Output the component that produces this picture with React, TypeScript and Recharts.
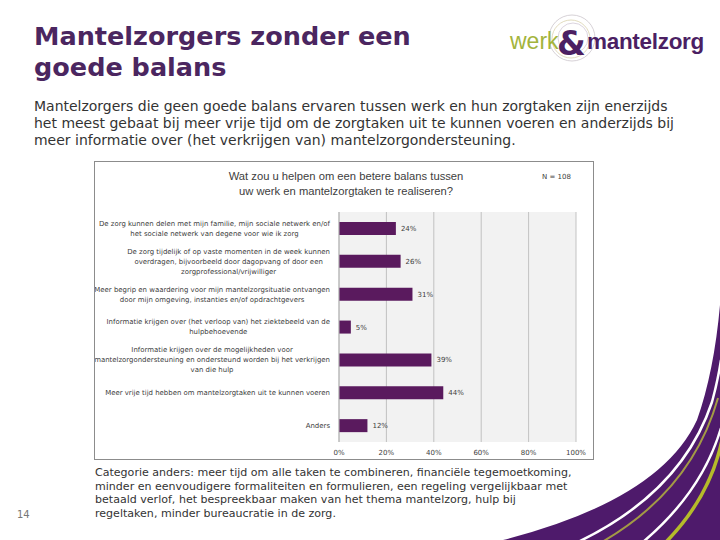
import React from 'react';
import { BarChart, Bar, XAxis, YAxis, CartesianGrid, LabelList } from 'recharts';

const categories = [
  'De zorg kunnen delen met mijn familie, mijn sociale netwerk en/of\nhet sociale netwerk van degene voor wie ik zorg',
  'De zorg tijdelijk of op vaste momenten in de week kunnen\noverdragen, bijvoorbeeld door dagopvang of door een\nzorgprofessional/vrijwilliger',
  'Meer begrip en waardering voor mijn mantelzorgsituatie ontvangen\ndoor mijn omgeving, instanties en/of opdrachtgevers',
  'Informatie krijgen over (het verloop van) het ziektebeeld van de\nhulpbehoevende',
  'Informatie krijgen over de mogelijkheden voor\nmantelzorgondersteuning en ondersteund worden bij het verkrijgen\nvan die hulp',
  'Meer vrije tijd hebben om mantelzorgtaken uit te kunnen voeren',
  'Anders',
];
const percentages = [24, 26, 31, 5, 39, 44, 12];
const xTicks = [0, 20, 40, 60, 80, 100];

const titleLines = ['Mantelzorgers zonder een', 'goede balans'];
const introLines = [
  'Mantelzorgers die geen goede balans ervaren tussen werk en hun zorgtaken zijn enerzijds',
  'het meest gebaat bij meer vrije tijd om de zorgtaken uit te kunnen voeren en anderzijds bij',
  'meer informatie over (het verkrijgen van) mantelzorgondersteuning.',
];
const chartTitleLines = ['Wat zou u helpen om een betere balans tussen', 'uw werk en mantelzorgtaken te realiseren?'];
const noteLines = [
  'Categorie anders: meer tijd om alle taken te combineren, financiële tegemoetkoming,',
  'minder en eenvoudigere formaliteiten en formulieren, een regeling vergelijkbaar met',
  'betaald verlof, het bespreekbaar maken van het thema mantelzorg, hulp bij',
  'regeltaken, minder bureaucratie in de zorg.',
];

const data = categories.map((c, i) => ({ name: c, value: percentages[i] }));

const PURPLE = '#4b2660';

let ctx: CanvasRenderingContext2D | null = null;
const measure = (s: string, font: string) => {
  if (!ctx) ctx = document.createElement('canvas').getContext('2d');
  if (!ctx) return s.length * 6;
  ctx.font = font;
  return ctx.measureText(s).width;
};
// font size so that a line has the width it has on the slide
const fit = (s: string, family: string, weight: string, width: number) => {
  const w = measure(s, `${weight} 10px ${family}`);
  return w > 0 ? (10 * width) / w : 10;
};

// longest label line has to stay inside the frame
const LABEL_SIZE = fit(categories[4].split('\n')[1], '"DejaVu Sans"', 'normal', 236);
const LABEL_FONT = `${LABEL_SIZE}px "DejaVu Sans"`;

// category labels: block right aligned, lines centred inside it (like Excel)
const CategoryTick = (props: any) => {
  const { x, y, payload } = props;
  const lines: string[] = String(payload.value).split('\n');
  const maxW = Math.max(...lines.map((l) => measure(l, LABEL_FONT)));
  const cx = x - 1 - maxW / 2;
  const lh = 10;
  const y0 = y - ((lines.length - 1) * lh) / 2;
  return (
    <g>
      {lines.map((l, i) => (
        <text
          key={i}
          x={cx}
          y={y0 + i * lh}
          dy="0.35em"
          textAnchor="middle"
          fontFamily="DejaVu Sans"
          fontSize={LABEL_SIZE}
          fill="#404040"
        >
          {l}
        </text>
      ))}
    </g>
  );
};

const lines = (arr: string[]) =>
  arr.map((l, i) => (
    <React.Fragment key={i}>
      {l}
      {i < arr.length - 1 && <br />}
    </React.Fragment>
  ));

export default function App() {
  const titleSize = fit(titleLines[0], '"DejaVu Sans"', 'bold', 377);
  const introSize = fit(introLines[0], '"DejaVu Sans"', 'normal', 634);
  const noteSize = fit(noteLines[0], '"DejaVu Sans"', 'normal', 477);
  const chartTitleSize = fit(chartTitleLines[0], '"Liberation Sans"', 'normal', 235);

  return (
    <div
      style={{
        position: 'absolute',
        left: 0,
        top: 0,
        width: 720,
        height: 540,
        background: '#fff',
        overflow: 'hidden',
        fontFamily: '"DejaVu Sans", Verdana, sans-serif',
      }}
    >
      {/* corner swoosh */}
      <svg style={{ position: 'absolute', left: 0, top: 0 }} width={720} height={540}>
        <path d="M503 540 Q660 500 697 420 Q714 372 720 305 L720 540 Z" fill="#4e1a6b" />
        <path d="M578 542 Q682 492 712 402 Q718 380 721 360" fill="none" stroke="#fff" strokeWidth={2.5} />
        <path d="M602 542 Q692 490 718 398" fill="none" stroke="#a39a45" strokeWidth={2} />
        <path d="M643 542 Q702 492 721 428" fill="none" stroke="#fff" strokeWidth={2.5} />
        <path d="M666 542 Q710 497 722 440" fill="none" stroke="#b5bb2a" strokeWidth={3.5} />
      </svg>

      <div
        style={{
          position: 'absolute',
          left: 34,
          top: 21,
          fontSize: titleSize,
          fontWeight: 'bold',
          lineHeight: '31px',
          color: PURPLE,
          whiteSpace: 'nowrap',
        }}
      >
        {lines(titleLines)}
      </div>

      {/* logo */}
      <svg style={{ position: 'absolute', left: 500, top: 10 }} width={220} height={70}>
        <circle cx={72} cy={28} r={23} fill="none" stroke="#cbc5cb" strokeWidth={0.8} />
        <circle cx={71} cy={29} r={19} fill="none" stroke="#d9d2ad" strokeWidth={0.8} />
        <circle cx={73} cy={28} r={15} fill="none" stroke="#d2c9d7" strokeWidth={0.8} />
        <text x={10} y={39} fontFamily="Liberation Sans" fontSize={23} fill="#a3b43c">werk</text>
        <text x={57} y={45} fontFamily="DejaVu Sans" fontWeight="bold" fontSize={33} fill="#4b1f63">&amp;</text>
        <text x={87} y={39} fontFamily="Liberation Sans" fontWeight="bold" fontSize={22.5} fill="#4b1f63" letterSpacing={-0.3}>
          mantelzorg
        </text>
      </svg>

      <div
        style={{
          position: 'absolute',
          left: 34,
          top: 98,
          fontSize: introSize,
          lineHeight: '17px',
          color: '#333',
          whiteSpace: 'nowrap',
        }}
      >
        {lines(introLines)}
      </div>

      <div
        style={{
          position: 'absolute',
          left: 94,
          top: 161,
          width: 498,
          height: 297,
          border: '1px solid #8c8c8c',
          background: '#fff',
        }}
      >
        <div
          style={{
            position: 'absolute',
            left: 0,
            top: 7,
            width: 502,
            textAlign: 'center',
            fontFamily: 'Liberation Sans',
            fontSize: chartTitleSize,
            lineHeight: '15px',
            color: '#404040',
            whiteSpace: 'nowrap',
          }}
        >
          {lines(chartTitleLines)}
        </div>
        <div
          style={{
            position: 'absolute',
            left: 447,
            top: 11,
            fontFamily: 'DejaVu Sans',
            fontSize: 7,
            color: '#404040',
          }}
        >
          N = 108
        </div>
        <BarChart
          width={498}
          height={297}
          data={data}
          layout="vertical"
          margin={{ top: 50, right: 17, bottom: 0, left: 0 }}
          barCategoryGap={10}
        >
          <CartesianGrid horizontal={false} fill="#f2f2f2" stroke="#b5b5b5" strokeWidth={0.8} />
          <XAxis
            type="number"
            domain={[0, 100]}
            ticks={xTicks}
            tickFormatter={(v) => `${v}%`}
            axisLine={false}
            tickLine={false}
            height={17}
            tickMargin={2}
            interval={0}
            tick={{ fontFamily: 'DejaVu Sans', fontSize: 7, fill: '#404040' }}
          />
          <YAxis
            type="category"
            dataKey="name"
            width={244}
            interval={0}
            axisLine={{ stroke: '#b5b5b5' }}
            tickLine={false}
            tick={<CategoryTick />}
          />
          <Bar dataKey="value" fill="#5a1a5e" barSize={13} isAnimationActive={false}>
            <LabelList
              dataKey="value"
              position="right"
              offset={5}
              formatter={(v: any) => `${v}%`}
              style={{ fontFamily: 'DejaVu Sans', fontSize: 7, fill: '#404040' }}
            />
          </Bar>
        </BarChart>
      </div>

      <div
        style={{
          position: 'absolute',
          left: 95,
          top: 466,
          fontSize: noteSize,
          lineHeight: '13.6px',
          color: '#333',
          whiteSpace: 'nowrap',
        }}
      >
        {lines(noteLines)}
      </div>

      <div style={{ position: 'absolute', left: 17, top: 509, fontSize: 10, color: '#777' }}>14</div>
    </div>
  );
}
